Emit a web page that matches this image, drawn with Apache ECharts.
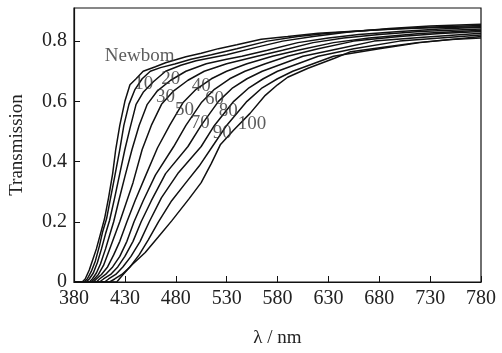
<!DOCTYPE html>
<html>
<head>
<meta charset="utf-8">
<script src="https://cdn.jsdelivr.net/npm/echarts@6/dist/echarts.min.js"></script>
<style>html,body{margin:0;padding:0;background:#fff}#c{width:502px;height:353px}</style>
</head>
<body>
<div id="c"></div>
<script>
// Curve names (age groups)
const curveNames = ['Newbom','10','20','30','40','50','60','70','80','90','100'];
// [wavelength nm, transmission]
const sNewborn = [[380,0],[388,0],[391,0.01],[395,0.04],[399,0.08],[402,0.11],[406,0.16],[410,0.21],[414,0.28],[418,0.36],[421,0.44],[425,0.52],[430,0.60],[435,0.655],[441,0.675],[448,0.70],[460,0.715],[470,0.728],[480,0.738],[490,0.748],[505,0.76],[522,0.775],[540,0.788],[564,0.806],[590,0.815],[620,0.826],[650,0.832],[680,0.838],[710,0.842],[740,0.845],[780,0.848]];
const s10 = [[380,0],[390,0],[393,0.01],[397,0.035],[401,0.07],[405,0.12],[408,0.165],[412,0.21],[416,0.28],[420,0.35],[425,0.44],[429,0.52],[434,0.59],[440,0.64],[447,0.675],[455,0.70],[465,0.712],[479,0.724],[495,0.74],[515,0.755],[540,0.775],[570,0.8],[600,0.815],[630,0.826],[660,0.834],[700,0.842],[740,0.848],[780,0.852]];
const s20 = [[380,0],[392,0],[395,0.01],[399,0.03],[403,0.065],[407,0.11],[411,0.16],[415,0.205],[420,0.28],[425,0.36],[430,0.44],[435,0.51],[441,0.59],[448,0.63],[458,0.665],[470,0.70],[485,0.72],[500,0.735],[530,0.755],[560,0.78],[585,0.80],[615,0.815],[650,0.83],[690,0.842],[730,0.85],[780,0.856]];
const s30 = [[380,0],[395,0],[398,0.01],[402,0.03],[406,0.06],[411,0.11],[415,0.155],[419,0.2],[424,0.27],[430,0.35],[437,0.44],[444,0.52],[452,0.59],[462,0.635],[475,0.67],[490,0.70],[510,0.725],[530,0.74],[545,0.75],[570,0.77],[600,0.795],[630,0.81],[660,0.822],[700,0.832],[740,0.84],[780,0.846]];
const s40 = [[380,0],[397,0],[400,0.01],[404,0.025],[409,0.055],[414,0.1],[419,0.145],[425,0.2],[431,0.26],[438,0.33],[447,0.44],[456,0.52],[466,0.59],[478,0.635],[492,0.67],[508,0.70],[530,0.725],[560,0.75],[585,0.77],[615,0.795],[645,0.81],[680,0.822],[720,0.832],[780,0.84]];
const s50 = [[380,0],[399,0],[402,0.01],[407,0.025],[413,0.05],[419,0.09],[425,0.135],[432,0.2],[440,0.27],[450,0.35],[462,0.445],[474,0.52],[487,0.595],[500,0.64],[515,0.675],[530,0.70],[550,0.725],[575,0.75],[600,0.77],[635,0.795],[670,0.81],[720,0.825],[780,0.836]];
const s60 = [[380,0],[402,0],[405,0.01],[411,0.025],[418,0.05],[425,0.085],[432,0.135],[439,0.2],[448,0.27],[460,0.355],[478,0.45],[490,0.52],[505,0.595],[518,0.64],[533,0.675],[548,0.70],[568,0.725],[590,0.75],[620,0.775],[655,0.80],[700,0.815],[740,0.825],[780,0.832]];
const s70 = [[380,0],[405,0],[409,0.01],[416,0.025],[423,0.05],[430,0.085],[438,0.135],[446,0.2],[456,0.27],[470,0.36],[492,0.45],[505,0.52],[522,0.6],[536,0.645],[550,0.675],[565,0.70],[585,0.725],[605,0.75],[640,0.775],[675,0.80],[720,0.812],[780,0.826]];
const s80 = [[380,0],[410,0],[414,0.01],[421,0.025],[428,0.05],[436,0.085],[445,0.135],[454,0.2],[466,0.28],[482,0.36],[505,0.45],[518,0.52],[537,0.6],[552,0.645],[566,0.675],[580,0.70],[600,0.725],[620,0.75],[655,0.775],[700,0.80],[740,0.81],[780,0.82]];
const s90 = [[380,0],[415,0],[420,0.01],[427,0.025],[435,0.05],[444,0.09],[453,0.14],[463,0.2],[476,0.27],[490,0.33],[503,0.385],[516,0.45],[530,0.52],[550,0.6],[565,0.645],[580,0.675],[595,0.70],[615,0.725],[635,0.75],[680,0.775],[720,0.795],[780,0.815]];
const s100 = [[380,0],[422,0],[427,0.02],[436,0.054],[450,0.098],[463,0.15],[476,0.203],[493,0.276],[505,0.33],[515,0.394],[524,0.457],[537,0.505],[553,0.56],[568,0.62],[580,0.655],[590,0.68],[610,0.71],[636,0.743],[652,0.765],[684,0.78],[717,0.795],[750,0.805],[780,0.81]];
const curves = [sNewborn,s10,s20,s30,s40,s50,s60,s70,s80,s90,s100];
// Label anchor points in data units [nm, T]
const labelAnchors = [[444.5,0.749],[448.5,0.659],[475,0.675],[470,0.616],[505,0.652],[488.5,0.57],[518,0.608],[504,0.527],[531.6,0.567],[525.7,0.494],[555,0.525]];
const xTicks = {min:380, max:780, step:50};
const yTicks = {min:0, max:0.91, step:0.2};

const font = '"Liberation Serif","DejaVu Serif",serif';
const series = curves.map((d,i)=>({
  type:'line', name:curveNames[i], data:d, showSymbol:false, symbol:'none',
  lineStyle:{color:'#111', width:1.5}, animation:false, z:2
}));
series.push({
  type:'scatter', symbolSize:0, animation:false, z:5,
  data: labelAnchors.map((p,i)=>({value:p, name:curveNames[i]})),
  label:{show:true, position:'inside', formatter:p=>p.name, fontFamily:font, fontSize:19, color:'#333'}
});
const chart = echarts.init(document.getElementById('c'), null, {renderer:'canvas'});
chart.setOption({
  backgroundColor:'#fff',
  animation:false,
  grid:{left:72, right:21, top:8, bottom:59, show:true, borderColor:'#111', borderWidth:1.2, backgroundColor:'transparent'},
  xAxis:{type:'value', min:xTicks.min, max:xTicks.max, interval:xTicks.step,
    name:'λ / nm', nameLocation:'middle', nameGap:47,
    nameTextStyle:{fontFamily:font, fontSize:19, color:'#222'},
    axisLine:{lineStyle:{color:'#111', width:1.2}},
    axisTick:{inside:true, length:6, lineStyle:{color:'#111'}},
    axisLabel:{fontFamily:font, fontSize:20, color:'#222', margin:7},
    splitLine:{show:false}},
  yAxis:{type:'value', min:yTicks.min, max:yTicks.max, interval:yTicks.step,
    name:'Transmission', nameLocation:'middle', nameGap:47,
    nameTextStyle:{fontFamily:font, fontSize:19, color:'#222'},
    axisLine:{lineStyle:{color:'#111', width:1.2}},
    axisTick:{inside:true, length:6, lineStyle:{color:'#111'}},
    axisLabel:{fontFamily:font, fontSize:20, color:'#222', margin:7, showMaxLabel:false},
    splitLine:{show:false}},
  series:series
});
</script>
</body>
</html>
